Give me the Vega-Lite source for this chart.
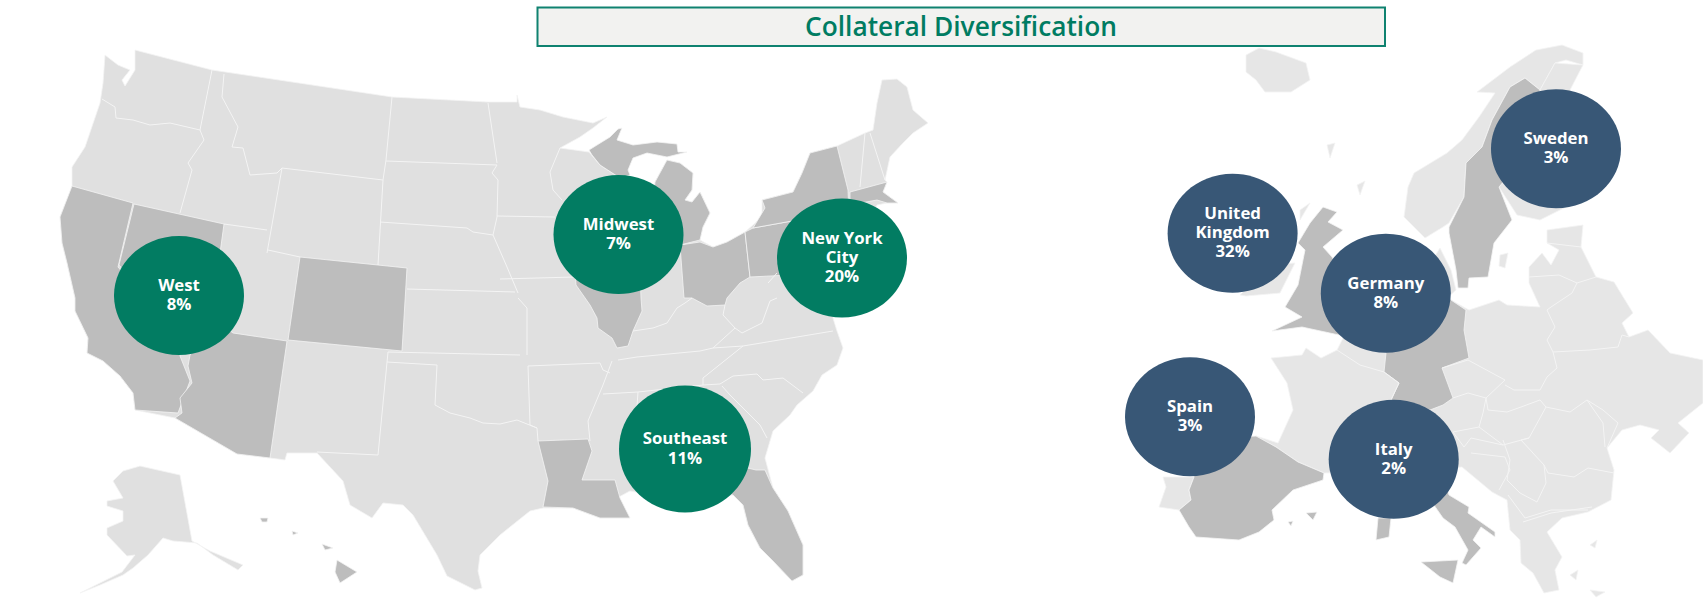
{"$schema":"https://vega.github.io/schema/vega-lite/v6.json","width":1703,"height":598,"padding":0,"autosize":{"type":"none"},"background":"#ffffff","view":{"stroke":null},
"projection":{"type":"identity","scale":1,"translate":[0,0]},
"datasets":{"bubbles":[
{"label":"West\n8%","region":"US","lon":179,"lat":295.5},
{"label":"Midwest\n7%","region":"US","lon":618.5,"lat":234.5},
{"label":"New York\nCity\n20%","region":"US","lon":842,"lat":258},
{"label":"Southeast\n11%","region":"US","lon":685,"lat":449},
{"label":"Sweden\n3%","region":"EU","lon":1556,"lat":148.7},
{"label":"United\nKingdom\n32%","region":"EU","lon":1232.6,"lat":233.3},
{"label":"Germany\n8%","region":"EU","lon":1385.8,"lat":293.3},
{"label":"Spain\n3%","region":"EU","lon":1190,"lat":416.7},
{"label":"Italy\n2%","region":"EU","lon":1393.7,"lat":459.3}
]},
"layer":[
{"data":{"values":[
{"type":"Feature","properties":{"name":"United States","group":"us"},"geometry":{"type":"MultiPolygon","coordinates":[
[[[105,55],[118,65],[130,70],[122,80],[125,86],[135,70],[135,50],[212,70],[392,97],[488,102],[517,102],[517,95],[520,107],[540,110],[563,117],[593,123],[607,117],[593,128],[580,137],[560,148],[589,152],[600,165],[620,178],[628,176],[640,230],[655,230],[655,182],[667,160],[680,163],[693,173],[692,190],[685,200],[692,202],[700,192],[710,213],[703,227],[700,240],[713,247],[727,242],[745,232],[762,217],[762,200],[793,192],[802,173],[810,153],[837,146],[865,133],[873,130],[877,103],[882,80],[897,79],[907,87],[913,110],[928,123],[913,133],[903,143],[890,157],[885,180],[887,182],[883,192],[898,203],[887,203],[877,205],[860,240],[833,318],[837,331],[843,348],[837,365],[822,375],[813,391],[797,405],[790,415],[773,431],[765,458],[773,488],[788,511],[803,545],[803,575],[792,581],[773,561],[760,548],[748,525],[743,505],[733,495],[680,500],[630,491],[617,498],[630,518],[600,518],[573,508],[543,508],[530,511],[500,535],[480,555],[478,571],[482,588],[475,590],[447,576],[437,555],[413,515],[403,505],[383,503],[372,518],[350,505],[343,481],[317,453],[287,453],[285,460],[270,458],[237,454],[175,418],[135,410],[133,393],[120,376],[103,361],[87,353],[88,338],[75,311],[75,298],[67,263],[62,243],[60,217],[72,187],[72,167],[85,147],[100,103],[103,83],[105,55]]],
[[[113,481],[123,471],[140,466],[180,475],[192,541],[210,551],[243,565],[238,570],[213,555],[197,543],[173,541],[163,538],[148,555],[133,568],[123,575],[100,585],[80,593],[122,572],[135,555],[127,556],[107,535],[107,528],[123,521],[123,511],[107,506],[107,501],[123,498],[113,481]]]
]}},
{"type":"Feature","properties":{"name":"California","group":"us-hi"},"geometry":{"type":"Polygon","coordinates":[[[72,186],[133,203],[118,267],[180,340],[180,356],[190,381],[178,413],[135,410],[133,393],[120,376],[103,361],[87,353],[88,338],[75,311],[75,298],[67,263],[62,243],[60,217],[72,186]]]}},
{"type":"Feature","properties":{"name":"Nevada","group":"us-hi"},"geometry":{"type":"Polygon","coordinates":[[[134,204],[224,224],[215,290],[190,340],[180,335],[119,265],[134,204]]]}},
{"type":"Feature","properties":{"name":"Arizona","group":"us-hi"},"geometry":{"type":"Polygon","coordinates":[[[233,333],[287,341],[270,458],[237,454],[175,418],[182,413],[180,398],[192,383],[188,366],[190,355],[215,320],[233,333]]]}},
{"type":"Feature","properties":{"name":"Colorado","group":"us-hi"},"geometry":{"type":"Polygon","coordinates":[[[300,257],[407,268],[402,351],[288,340],[300,257]]]}},
{"type":"Feature","properties":{"name":"Illinois","group":"us-hi"},"geometry":{"type":"Polygon","coordinates":[[[575,270],[640,270],[641,298],[642,311],[633,331],[628,346],[617,348],[612,338],[598,328],[597,318],[590,305],[576,285],[575,270]]]}},
{"type":"Feature","properties":{"name":"Ohio","group":"us-hi"},"geometry":{"type":"Polygon","coordinates":[[[680,245],[700,242],[713,247],[727,242],[745,232],[750,277],[740,283],[727,298],[725,305],[707,306],[692,298],[684,298],[680,245]]]}},
{"type":"Feature","properties":{"name":"Pennsylvania","group":"us-hi"},"geometry":{"type":"Polygon","coordinates":[[[745,232],[753,228],[792,221],[830,220],[830,273],[750,277],[745,232]]]}},
{"type":"Feature","properties":{"name":"New York","group":"us-hi"},"geometry":{"type":"Polygon","coordinates":[[[762,200],[793,192],[802,173],[810,153],[837,146],[848,190],[849,215],[792,221],[753,228],[765,208],[762,200]]]}},
{"type":"Feature","properties":{"name":"Massachusetts","group":"us-hi"},"geometry":{"type":"Polygon","coordinates":[[[850,192],[887,182],[883,192],[898,203],[887,203],[877,200],[850,205],[850,192]]]}},
{"type":"Feature","properties":{"name":"Michigan","group":"us-hi"},"geometry":{"type":"MultiPolygon","coordinates":[
[[[589,150],[597,145],[610,137],[618,129],[622,128],[617,140],[633,145],[657,142],[677,144],[678,152],[687,152],[667,157],[647,153],[633,158],[628,170],[630,175],[620,178],[600,165],[592,155],[589,150]]],
[[[667,160],[680,163],[693,173],[692,190],[685,200],[692,202],[700,192],[710,213],[703,227],[700,240],[680,245],[650,245],[655,182],[667,160]]]]}},
{"type":"Feature","properties":{"name":"Louisiana","group":"us-hi"},"geometry":{"type":"Polygon","coordinates":[[[538,441],[588,439],[592,451],[582,480],[615,480],[620,498],[630,518],[600,518],[573,508],[543,507],[548,481],[538,441]]]}},
{"type":"Feature","properties":{"name":"Florida","group":"us-hi"},"geometry":{"type":"Polygon","coordinates":[[[715,490],[735,465],[756,470],[765,470],[773,488],[788,511],[803,545],[803,575],[792,581],[773,561],[760,548],[748,525],[743,505],[733,495],[715,490]]]}},
{"type":"Feature","properties":{"name":"Hawaii","group":"us-hi"},"geometry":{"type":"MultiPolygon","coordinates":[[[[337,560],[357,572],[340,583],[335,572],[337,560]]],[[[322,544],[333,548],[325,550],[322,544]]],[[[260,518],[268,518],[267,522],[262,522],[260,518]]],[[[292,531],[298,533],[293,535],[292,531]]]]}},
{"type":"Feature","properties":{"name":"Iceland","group":"eu"},"geometry":{"type":"Polygon","coordinates":[[[1246,55],[1259,48],[1276,52],[1306,63],[1310,80],[1291,92],[1265,92],[1256,80],[1246,72],[1246,55]]]}},
{"type":"Feature","properties":{"name":"Norway","group":"eu"},"geometry":{"type":"Polygon","coordinates":[[[1425,238],[1404,217],[1408,187],[1414,173],[1447,153],[1462,140],[1479,117],[1495,93],[1477,92],[1510,67],[1536,50],[1562,45],[1583,53],[1583,65],[1566,60],[1555,63],[1540,90],[1525,78],[1510,87],[1492,120],[1482,147],[1466,163],[1464,197],[1449,223],[1443,227],[1425,238]]]}},
{"type":"Feature","properties":{"name":"Finland","group":"eu"},"geometry":{"type":"Polygon","coordinates":[[[1540,90],[1555,63],[1583,65],[1570,90],[1600,130],[1600,190],[1566,207],[1540,220],[1517,215],[1499,187],[1530,150],[1540,90]]]}},
{"type":"Feature","properties":{"name":"Ireland","group":"eu"},"geometry":{"type":"Polygon","coordinates":[[[1240,295],[1270,265],[1295,263],[1280,293],[1246,296],[1240,295]]]}},
{"type":"Feature","properties":{"name":"Denmark","group":"eu"},"geometry":{"type":"Polygon","coordinates":[[[1440,248],[1451,270],[1456,290],[1445,300],[1420,280],[1440,248]]]}},
{"type":"Feature","properties":{"name":"Continental Europe","group":"eu"},"geometry":{"type":"Polygon","coordinates":[[[1547,230],[1583,225],[1581,247],[1596,277],[1614,282],[1633,313],[1622,323],[1629,337],[1648,330],[1670,353],[1703,360],[1703,403],[1678,423],[1689,433],[1670,453],[1651,438],[1659,430],[1640,425],[1622,430],[1607,448],[1614,470],[1611,500],[1588,512],[1562,518],[1547,532],[1562,557],[1555,570],[1559,590],[1544,593],[1533,573],[1521,563],[1520,540],[1510,530],[1507,500],[1492,492],[1462,467],[1420,470],[1324,473],[1298,462],[1276,447],[1256,436],[1278,443],[1293,410],[1287,383],[1271,358],[1302,355],[1306,348],[1321,358],[1337,350],[1343,338],[1370,315],[1430,290],[1451,300],[1469,310],[1499,300],[1507,305],[1540,307],[1529,283],[1529,267],[1542,253],[1551,265],[1559,250],[1547,243],[1547,230]]]}},
{"type":"Feature","properties":{"name":"Portugal","group":"eu"},"geometry":{"type":"Polygon","coordinates":[[[1163,477],[1194,477],[1189,490],[1191,500],[1179,510],[1159,507],[1166,487],[1163,477]]]}},
{"type":"Feature","properties":{"name":"Islands","group":"eu"},"geometry":{"type":"MultiPolygon","coordinates":[[[[1327,145],[1335,143],[1330,158],[1327,145]]],[[[1357,185],[1365,181],[1360,195],[1357,185]]],[[[1300,210],[1310,203],[1300,220],[1300,210]]],[[[1500,255],[1508,253],[1505,268],[1499,266],[1500,255]]],[[[1590,545],[1597,540],[1595,548],[1590,545]]],[[[1570,575],[1578,570],[1576,580],[1570,575]]],[[[1590,590],[1605,592],[1596,597],[1590,590]]]]}},
{"type":"Feature","properties":{"name":"Sweden","group":"eu-hi"},"geometry":{"type":"Polygon","coordinates":[[[1525,78],[1540,90],[1530,150],[1499,187],[1512,220],[1494,243],[1488,277],[1469,278],[1468,288],[1458,288],[1456,270],[1449,233],[1449,227],[1464,197],[1466,163],[1482,147],[1492,120],[1510,87],[1525,78]]]}},
{"type":"Feature","properties":{"name":"United Kingdom","group":"eu-hi"},"geometry":{"type":"Polygon","coordinates":[[[1323,207],[1337,212],[1328,222],[1343,230],[1323,247],[1332,257],[1350,290],[1370,320],[1339,335],[1302,327],[1272,331],[1302,317],[1285,307],[1298,285],[1302,265],[1305,250],[1298,243],[1310,223],[1323,207]]]}},
{"type":"Feature","properties":{"name":"Germany","group":"eu-hi"},"geometry":{"type":"Polygon","coordinates":[[[1391,400],[1399,383],[1384,372],[1386,353],[1365,320],[1395,280],[1440,290],[1451,300],[1466,310],[1464,330],[1469,358],[1442,368],[1453,398],[1443,405],[1430,410],[1391,400]]]}},
{"type":"Feature","properties":{"name":"Spain","group":"eu-hi"},"geometry":{"type":"MultiPolygon","coordinates":[[[[1194,440],[1256,436],[1276,447],[1298,462],[1324,473],[1323,480],[1293,490],[1272,510],[1274,520],[1259,532],[1239,540],[1196,537],[1189,527],[1179,510],[1191,500],[1189,490],[1194,477],[1194,440]]],[[[1306,513],[1317,512],[1313,520],[1306,513]]],[[[1288,522],[1293,521],[1291,526],[1288,522]]]]}},
{"type":"Feature","properties":{"name":"Italy","group":"eu-hi"},"geometry":{"type":"MultiPolygon","coordinates":[[[[1410,470],[1440,470],[1449,495],[1469,507],[1468,513],[1495,532],[1495,537],[1481,527],[1473,540],[1481,548],[1466,565],[1462,563],[1468,550],[1455,527],[1443,518],[1436,508],[1410,470]]],[[[1421,562],[1458,560],[1453,583],[1440,577],[1421,562]]],[[[1378,518],[1391,518],[1389,537],[1376,540],[1378,518]]]]}}
]},
"mark":{"type":"geoshape","stroke":"#f4f4f4","strokeWidth":0.8,"strokeJoin":"round"},
"encoding":{"fill":{"field":"properties.group","type":"nominal","legend":null,"scale":{"domain":["us","us-hi","eu","eu-hi"],"range":["#e0e0e0","#bdbdbd","#e6e6e6","#bdbdbd"]}}}},
{"data":{"values":[
{"type":"Feature","properties":{"name":"US state borders"},"geometry":{"type":"MultiLineString","coordinates":[
[[102,99],[115,107],[116,118],[133,120],[150,125],[170,123],[200,130]],
[[212,70],[200,130]],
[[200,130],[204,140],[188,163],[192,170],[180,213]],
[[224,74],[222,97],[238,127],[232,147],[243,148],[250,175],[277,173],[282,168]],
[[282,168],[267,253]],
[[224,224],[267,230]],
[[268,250],[300,257]],
[[282,168],[383,180]],
[[392,97],[386,160]],
[[386,161],[497,165]],
[[386,160],[383,180]],
[[383,180],[378,265]],
[[380,222],[467,228],[473,232],[493,235]],
[[488,103],[497,163]],
[[497,165],[492,173],[498,180],[497,217],[493,235]],
[[493,235],[507,267],[518,293]],
[[497,216],[555,217]],
[[500,279],[575,277]],
[[407,289],[515,292]],
[[388,352],[520,355]],
[[388,352],[378,455]],
[[387,362],[437,365],[435,405],[450,413],[470,418],[483,423],[500,424],[517,420],[537,428],[538,441]],
[[317,452],[378,455]],
[[518,298],[527,308],[527,355]],
[[528,366],[600,363],[603,370],[610,373]],
[[528,366],[530,425],[537,428]],
[[612,361],[603,385],[588,421],[590,441]],
[[618,360],[637,357],[700,351],[713,348],[743,346],[833,331]],
[[603,394],[638,392],[703,385],[720,384]],
[[638,392],[636,420]],
[[743,346],[703,378],[703,385]],
[[720,384],[733,376],[757,374],[763,380],[783,378],[803,393]],
[[722,386],[730,395],[760,425],[767,438]],
[[713,348],[735,328]],
[[735,328],[742,333],[762,323],[770,301],[777,298]],
[[633,331],[653,328],[667,323],[677,308],[685,303],[692,298]],
[[725,305],[723,315],[735,328]],
[[768,283],[777,273]],
[[560,148],[550,172],[553,190],[562,200]],
[[865,133],[860,187]],
[[870,133],[885,180]]
]}},
{"type":"Feature","properties":{"name":"Europe borders"},"geometry":{"type":"MultiLineString","coordinates":[
[[1442,368],[1468,360],[1505,380],[1486,398],[1468,393],[1453,398]],
[[1505,385],[1514,390],[1540,390],[1547,377],[1557,368],[1553,352],[1547,340],[1555,327],[1547,310]],
[[1486,398],[1488,410],[1507,412],[1521,407],[1540,400],[1546,407]],
[[1546,407],[1570,412],[1587,400],[1603,410],[1618,423],[1607,448]],
[[1553,352],[1590,350],[1618,347],[1622,335],[1629,337]],
[[1587,400],[1603,423],[1605,447]],
[[1544,465],[1548,473],[1574,477],[1588,468],[1614,473]],
[[1546,407],[1529,438],[1521,440]],
[[1479,427],[1503,445],[1529,438]],
[[1453,432],[1479,427],[1483,413],[1486,398]],
[[1503,440],[1510,460],[1507,480],[1520,493],[1537,502],[1546,483],[1544,465],[1521,440]],
[[1471,453],[1505,457],[1510,470],[1499,490]],
[[1453,432],[1464,447],[1471,438],[1503,445]],
[[1508,495],[1525,518],[1551,510],[1588,510]],
[[1523,522],[1551,513],[1592,507]],
[[1529,277],[1559,275],[1577,283]],
[[1551,307],[1572,293],[1577,283]],
[[1577,283],[1596,277]],
[[1547,243],[1581,247]],
[[1547,310],[1551,307]],
[[1337,350],[1360,365],[1384,372]],
[[1384,372],[1399,383],[1391,400],[1400,430]]
]}}
]},
"mark":{"type":"geoshape","filled":false,"stroke":"#f4f4f4","strokeWidth":1,"strokeJoin":"round"}},
{"data":{"values":[{"type":"Feature","properties":{"name":"Title box"},"geometry":{"type":"Polygon","coordinates":[[[537.5,7.5],[1385,7.5],[1385,46],[537.5,46],[537.5,7.5]]]}}]},
"mark":{"type":"geoshape","fill":"#f2f2f0","stroke":"#0f8270","strokeWidth":2}},
{"data":{"values":[{"title":"Collateral Diversification","lon":961,"lat":28}]},
"mark":{"type":"text","font":"Open Sans","fontWeight":600,"fontSize":26.3,"color":"#007c62","align":"center","baseline":"middle"},
"encoding":{"longitude":{"field":"lon","type":"quantitative"},"latitude":{"field":"lat","type":"quantitative"},"text":{"field":"title"}}},
{"data":{"name":"bubbles"},"transform":[{"filter":"indexof(datum.label,'Southeast') < 0"}],
"mark":{"type":"point","filled":true,"opacity":1,"size":16900,"shape":"M-1,0C-1,-0.505 -0.552,-0.915 0,-0.915C0.552,-0.915 1,-0.505 1,0C1,0.505 0.552,0.915 0,0.915C-0.552,0.915 -1,0.505 -1,0Z"},
"encoding":{"longitude":{"field":"lon","type":"quantitative"},"latitude":{"field":"lat","type":"quantitative"},"color":{"field":"region","type":"nominal","legend":null,"scale":{"domain":["US","EU"],"range":["#027c62","#385776"]}}}},
{"data":{"name":"bubbles"},"transform":[{"filter":"indexof(datum.label,'Southeast') >= 0"}],
"mark":{"type":"point","filled":true,"opacity":1,"size":17424,"shape":"M-1,0C-1,-0.531 -0.552,-0.962 0,-0.962C0.552,-0.962 1,-0.531 1,0C1,0.531 0.552,0.962 0,0.962C-0.552,0.962 -1,0.531 -1,0Z"},
"encoding":{"longitude":{"field":"lon","type":"quantitative"},"latitude":{"field":"lat","type":"quantitative"},"color":{"field":"region","type":"nominal","legend":null,"scale":{"domain":["US","EU"],"range":["#027c62","#385776"]}}}},
{"data":{"name":"bubbles"},"transform":[{"filter":"length(split(datum.label,'\\n')) == 2"}],
"mark":{"type":"text","font":"Open Sans","fontWeight":700,"fontSize":16.8,"dy":-9.6,"color":"#ffffff","align":"center","baseline":"middle","lineBreak":"\n","lineHeight":19.2},
"encoding":{"longitude":{"field":"lon","type":"quantitative"},"latitude":{"field":"lat","type":"quantitative"},"text":{"field":"label"}}},
{"data":{"name":"bubbles"},"transform":[{"filter":"length(split(datum.label,'\\n')) == 3"}],
"mark":{"type":"text","font":"Open Sans","fontWeight":700,"fontSize":16.8,"dy":-19.2,"color":"#ffffff","align":"center","baseline":"middle","lineBreak":"\n","lineHeight":19.2},
"encoding":{"longitude":{"field":"lon","type":"quantitative"},"latitude":{"field":"lat","type":"quantitative"},"text":{"field":"label"}}}
]}
